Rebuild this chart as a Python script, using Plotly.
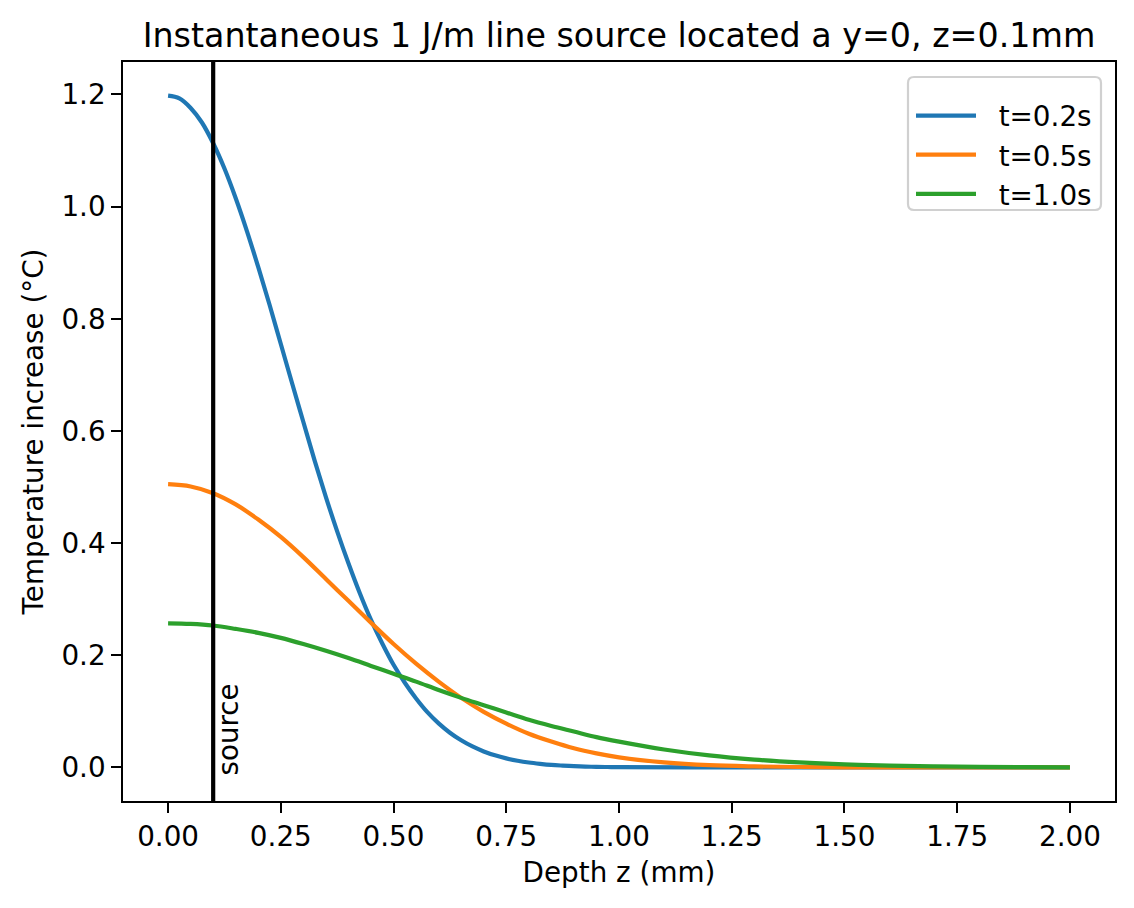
import plotly.graph_objects as go

# Depth z (mm) for the t=0.2s curve (denser, it is steep)
depth_fine_mm = [0.000, 0.025, 0.050, 0.075, 0.100, 0.125, 0.150, 0.175, 0.200, 0.225,
                 0.250, 0.275, 0.300, 0.325, 0.350, 0.375, 0.400, 0.425, 0.450, 0.475,
                 0.500, 0.525, 0.550, 0.575, 0.600, 0.625, 0.650, 0.675, 0.700, 0.725,
                 0.750, 0.775, 0.800, 0.825, 0.850, 0.875, 0.900, 0.925, 0.950, 0.975,
                 1.000, 1.250, 1.500, 1.750, 2.000]
temp_t02 = [1.198, 1.193, 1.176, 1.150, 1.113, 1.068, 1.015, 0.956, 0.892, 0.825,
            0.755, 0.685, 0.616, 0.547, 0.482, 0.421, 0.364, 0.311, 0.263, 0.221,
            0.183, 0.151, 0.123, 0.0986, 0.0785, 0.0619, 0.0483, 0.0373, 0.0285, 0.0215,
            0.0161, 0.0119, 0.0087, 0.0064, 0.0045, 0.0032, 0.0022, 0.0015, 0.0010, 0.0007,
            0.0005, 0.0, 0.0, 0.0, 0.0]

# Depth z (mm) for the t=0.5s and t=1.0s curves
depth_mm = [0.00, 0.05, 0.10, 0.15, 0.20, 0.25, 0.30, 0.35, 0.40, 0.45,
            0.50, 0.55, 0.60, 0.65, 0.70, 0.75, 0.80, 0.85, 0.90, 0.95,
            1.00, 1.10, 1.20, 1.30, 1.40, 1.50, 1.60, 1.70, 1.80, 1.90, 2.00]
temp_t05 = [0.505, 0.501, 0.489, 0.469, 0.442, 0.411, 0.375, 0.336, 0.297, 0.258,
            0.220, 0.185, 0.153, 0.124, 0.099, 0.078, 0.060, 0.046, 0.034, 0.025,
            0.018, 0.009, 0.004, 0.0018, 0.0007, 0.0002, 0.0001, 0.0, 0.0, 0.0, 0.0]
temp_t10 = [0.257, 0.256, 0.253, 0.247, 0.240, 0.231, 0.220, 0.208, 0.195, 0.181,
            0.167, 0.153, 0.138, 0.124, 0.111, 0.098, 0.085, 0.074, 0.064, 0.054,
            0.046, 0.032, 0.0215, 0.014, 0.0088, 0.0053, 0.0031, 0.0018, 0.0010, 0.0005, 0.0002]

series_names = ["t=0.2s", "t=0.5s", "t=1.0s"]
series_x = [depth_fine_mm, depth_mm, depth_mm]
series_values = [temp_t02, temp_t05, temp_t10]
series_colors = ["#1f77b4", "#ff7f0e", "#2ca02c"]

source_z = 0.1

x_ticks = [0.0, 0.25, 0.5, 0.75, 1.0, 1.25, 1.5, 1.75, 2.0]
y_ticks = [0.0, 0.2, 0.4, 0.6, 0.8, 1.0, 1.2]

FONT = "DejaVu Sans"
NBSP = "\u00a0"

fig = go.Figure()
for name, xs, vals, col in zip(series_names, series_x, series_values, series_colors):
    fig.add_trace(go.Scatter(x=xs, y=vals, mode="lines", name=NBSP * 2 + name,
                             line=dict(color=col, width=4.2, shape="spline", smoothing=1.0)))

fig.add_vline(x=source_z, line=dict(color="black", width=4.2))
fig.add_annotation(x=source_z + 0.01, y=0, xref="x", yref="y", text="source",
                   textangle=-90, showarrow=False, xanchor="left", yanchor="bottom",
                   font=dict(family=FONT, size=27.8, color="black"), yshift=-10,
                   xshift=-8)

axis_common = dict(showline=True, mirror=True, linecolor="black", linewidth=2.2,
                   ticks="outside", ticklen=9.7, tickwidth=2.2, tickcolor="black",
                   showgrid=False, zeroline=False,
                   tickfont=dict(family=FONT, size=27.8, color="black"))

fig.update_xaxes(range=[-0.1, 2.1], tickvals=x_ticks, tickformat=".2f",
                 title=dict(text="Depth z (mm)", font=dict(family=FONT, size=27.8, color="black"),
                            standoff=10),
                 **axis_common)
fig.update_yaxes(range=[-0.0599, 1.2579], tickvals=y_ticks, tickformat=".1f",
                 title=dict(text="Temperature increase (°C)",
                            font=dict(family=FONT, size=27.8, color="black"), standoff=10),
                 **axis_common)

# legend frame (rounded box) in paper coordinates
W, H, L, T = 992.0, 739.0, 123.0, 62.0
def px(xp):
    return (xp - L) / W
def py(yp):
    return 1 - (yp - T) / H
bx0, bx1, by0, by1 = px(908), px(1101), py(77), py(210)
rx, ry = 6 / W, 6 / H
frame_path = (f"M{bx0+rx},{by0} L{bx1-rx},{by0} Q{bx1},{by0} {bx1},{by0-ry} "
              f"L{bx1},{by1+ry} Q{bx1},{by1} {bx1-rx},{by1} "
              f"L{bx0+rx},{by1} Q{bx0},{by1} {bx0},{by1+ry} "
              f"L{bx0},{by0-ry} Q{bx0},{by0} {bx0+rx},{by0} Z")
fig.add_shape(type="path", path=frame_path, xref="paper", yref="paper",
              line=dict(color="#d0d0d0", width=2.2), fillcolor="rgba(255,255,255,0.8)",
              layer="above")

fig.update_layout(
    width=1134, height=908,
    margin=dict(l=123, r=19, t=62, b=107, pad=0),
    plot_bgcolor="white", paper_bgcolor="white",
    font=dict(family=FONT, size=27.8, color="black"),
    title=dict(text="Instantaneous 1 J/m line source located a y=0, z=0.1mm",
               font=dict(family=FONT, size=33.3, color="black"),
               x=0.5, xref="paper", xanchor="center",
               y=1, yref="paper", yanchor="bottom", pad=dict(b=15)),
    legend=dict(x=px(911), y=py(91), xanchor="left", yanchor="top",
                bgcolor="rgba(0,0,0,0)", borderwidth=0,
                font=dict(family=FONT, size=27.8, color="black"), itemwidth=60),
    showlegend=True,
)

fig.write_html("out.html")
